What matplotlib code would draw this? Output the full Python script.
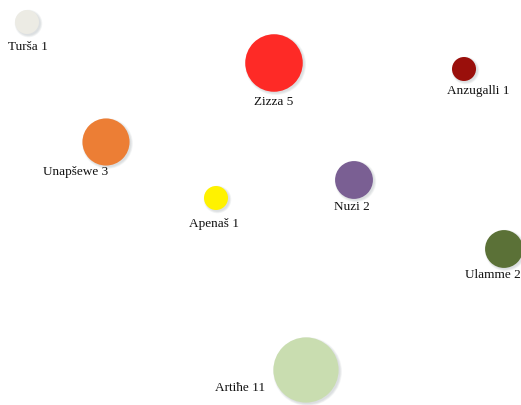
import numpy as np
import matplotlib
matplotlib.use("Agg")
from matplotlib import pyplot as plt
from matplotlib.patches import Circle

# bubble data
names = ["Turša", "Zizza", "Anzugalli", "Unapšewe", "Apenaš", "Nuzi", "Ulamme", "Artiħe"]
counts = [1, 5, 1, 3, 1, 2, 2, 11]
colors = ["#ecebe4", "#fe2a26", "#9a0f0b", "#ec7e35", "#fff200", "#7a5f93", "#5b7137", "#c9ddb0"]

# layout (pixel space of the 521x405 canvas)
pos_x = [27, 274, 464, 106, 216, 354, 504, 306]
pos_y = [22, 63, 69, 142, 198, 180, 249, 370]
label_dx = [1, 0, 14, -30, -2, -2, -11, -66]
label_dy = [25, 39, 22, 30, 26, 27, 26, 18]


def radius(v):
    return 12 + 21 * (1 - np.exp(-(v - 1) / 2.5))


fig = plt.figure(figsize=(5.21, 4.05), dpi=100)
ax = fig.add_axes([0, 0, 1, 1])
ax.set_xlim(0, 521)
ax.set_ylim(405, 0)
ax.set_aspect("equal")
ax.axis("off")

for n, c, col, x, y, dx, dy in zip(names, counts, colors, pos_x, pos_y, label_dx, label_dy):
    r = radius(c)
    # soft drop shadow
    for k in range(4):
        ax.add_patch(Circle((x + 1.5, y + 1.5), r + 0.6 * k, color="#7f8a90",
                            alpha=0.07, lw=0, zorder=1))
    ax.add_patch(Circle((x, y), r, color=col, lw=0, zorder=2))
    ax.text(x + dx, y + dy, f"{n} {c}", ha="center", va="center",
            fontsize=9.5, family="Liberation Serif", color="#111111", zorder=3)

fig.savefig("out.png", dpi=100)
